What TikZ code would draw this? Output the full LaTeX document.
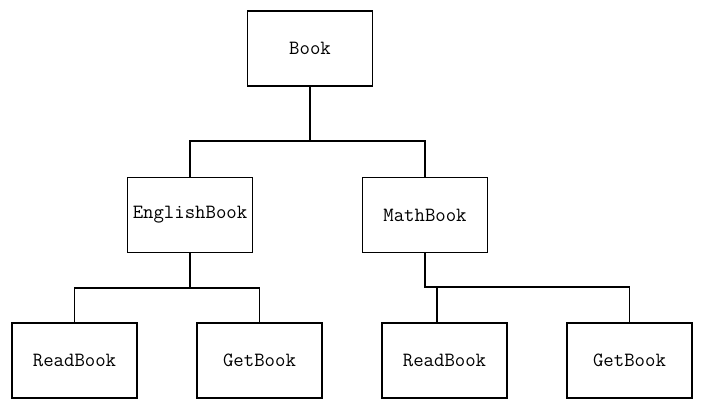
\documentclass[tikz,border=0pt]{standalone}
\usepackage{fontspec}
\usetikzlibrary{calc}

\tikzset{
  bookbox/.style={draw, black, line width=0.6pt, minimum width=2.5cm, minimum height=1.5cm,
                  inner sep=0pt, font=\ttfamily\fontsize{11.5pt}{14pt}\selectfont},
  link/.style={black, line width=0.6pt}
}

\begin{document}
\begin{tikzpicture}[x=0.02cm, y=-0.02cm]
		\useasboundingbox (0,0) rectangle (702,413);
		% the three levels of boxes
		\node[bookbox] (Book)        at (310,48.5)  {Book};
		\node[bookbox] (EnglishBook) at (190,215)   {EnglishBook};
		\node[bookbox] (MathBook)    at (425,215)   {MathBook};
		\node[bookbox] (ReadBookA)   at (74.5,360.5)  {ReadBook};
		\node[bookbox] (GetBookA)    at (259.5,360.5) {GetBook};
		\node[bookbox] (ReadBookB)   at (444.5,360.5) {ReadBook};
		\node[bookbox] (GetBookB)    at (629.5,360.5) {GetBook};

		\coordinate (BusTop)     at (310,141);
		\coordinate (BusEnglish) at (190,288);
		\coordinate (BusMath)    at (425,287);
		\coordinate (DropRead)   at (437,323);% branch is off centre

		\draw [link] (Book.south) -- (BusTop);
		\draw [link] (EnglishBook.north) |- (BusTop) -| (MathBook.north);
		\draw [link] (EnglishBook.south) -- (BusEnglish);
		\draw [link] (ReadBookA.north) |- (BusEnglish) -| (GetBookA.north);
		\draw [link] (MathBook.south) -- (BusMath) -| (GetBookB.north);
		\draw [link] (DropRead) -- (DropRead |- BusMath);
\end{tikzpicture}
\end{document}
